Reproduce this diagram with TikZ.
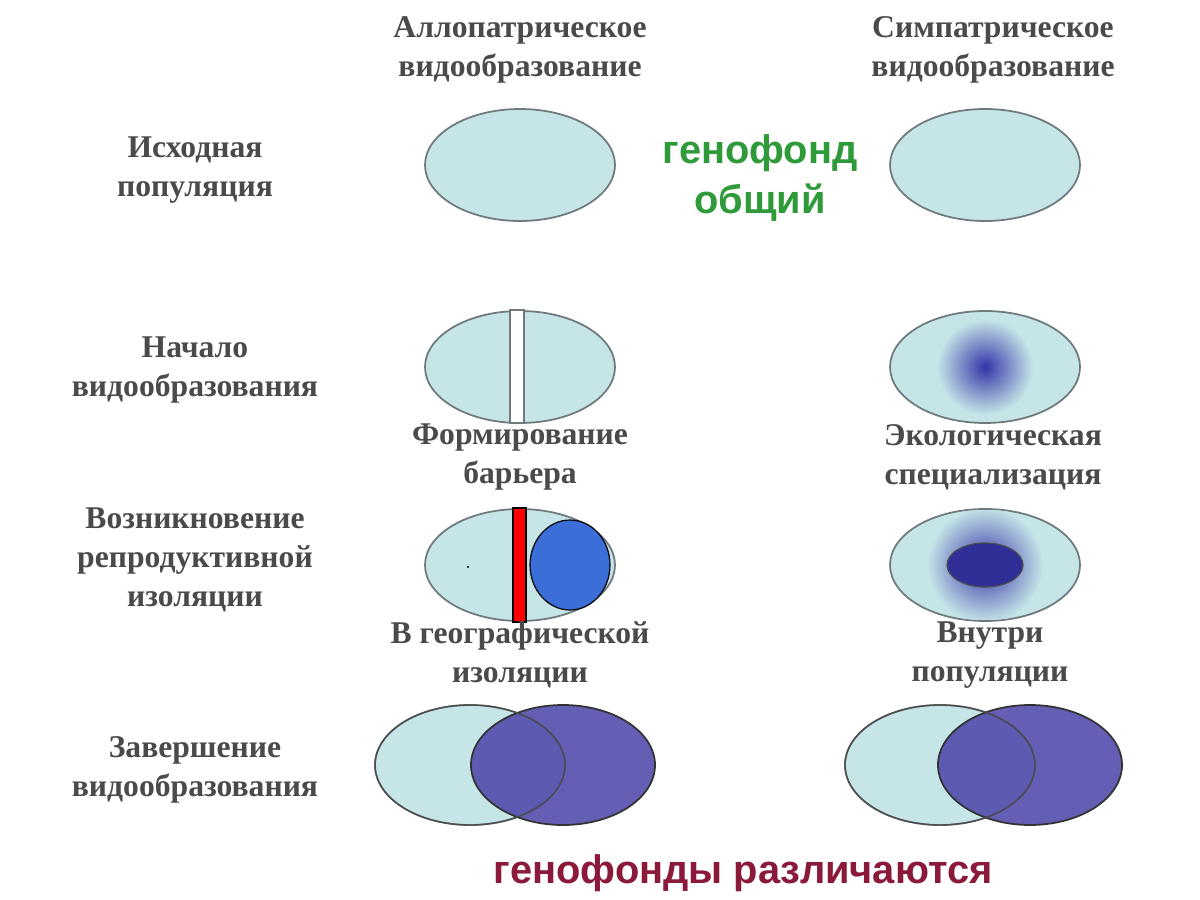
\documentclass[tikz,border=0pt]{standalone}
\usepackage{fontspec}
\setmainfont{Liberation Serif}
\newfontfamily\sansb{Liberation Sans}
\usetikzlibrary{shapes.geometric}
\definecolor{pop}{HTML}{C6E5E7}
\definecolor{rim}{HTML}{6E7A7C}
\definecolor{deep}{HTML}{3434A8}
\definecolor{violet}{HTML}{4A44A8}
\definecolor{gtxt}{HTML}{2E9A3A}
\definecolor{rtxt}{HTML}{8B1A3A}
\definecolor{lab}{HTML}{4A4A4A}
\definecolor{ball}{HTML}{3C6ED8}
\tikzset{
 lbl/.style={font=\bfseries\fontsize{27}{33}\selectfont, text=lab, align=center},
 popel/.style={ellipse, draw=rim, line width=1.5pt, fill=pop, minimum width=190\pxu, minimum height=112\pxu, inner sep=0pt},
}
\newlength\pxu \setlength\pxu{0.03cm}
\begin{document}
\begin{tikzpicture}[x=0.03cm,y=-0.03cm]
\useasboundingbox[fill=white] (0,0) rectangle (1200,900);
% headings
\node[lbl] (hA) at (520,50) {Аллопатрическое\\видообразование};
\node[lbl] (hS) at (993,50) {Симпатрическое\\видообразование};
\node[lbl] (r1) at (195,170) {Исходная\\популяция};
\node[lbl] (r2) at (195,370) {Начало\\видообразования};
\node[lbl] (r3) at (195,560) {Возникновение\\репродуктивной\\изоляции};
\node[lbl] (r4) at (195,770) {Завершение\\видообразования};
% row 1
\node[popel] (a1) at (520,165) {};
\node[popel] (s1) at (985,165) {};
\node[font=\sansb\bfseries\fontsize{34}{42}\selectfont, text=gtxt, align=center] (g1) at (760,178) {генофонд\\общий};
% row 2
\node[popel] (a2) at (520,367) {};
\fill[white, draw=rim, line width=1.5pt] (510,310) rectangle (524,423);
\node[popel] (s2) at (985,367) {};
\begin{scope}
\clip (985,367) ellipse (94 and 55);
\shade[inner color=deep, outer color=pop] (985,367) circle (48);
\end{scope}
\node[lbl] (t2a) at (520,457) {Формирование\\барьера};
\node[lbl] (t2s) at (993,457) {Экологическая\\специализация};
% row 3
\node[popel] (a3) at (520,565) {};
\fill[red, draw=black, line width=1pt] (513,508) rectangle (526,622);
\node[ellipse, draw=black, line width=1pt, fill=ball, minimum width=80\pxu, minimum height=90\pxu] (b3) at (570,565) {};
\fill[black] (468,567) circle (1.2);
\node[popel] (s3) at (985,565) {};
\begin{scope}
\clip (985,565) ellipse (94 and 55);
\shade[inner color=deep, outer color=pop] (985,565) circle (58);
\end{scope}
\node[ellipse, draw=black!70, line width=1pt, fill=deep!90!black, minimum width=76\pxu, minimum height=44\pxu] (c3) at (985,565) {};
\node[lbl] (t3a) at (520,655) {В географической\\изоляции};
\node[lbl] (t3s) at (990,655) {Внутри\\популяции};
% row 4
\node[popel, minimum width=190\pxu, minimum height=120\pxu] (a4) at (470,765) {};
\node[ellipse, draw=black!80, line width=1.5pt, fill=violet, fill opacity=0.85, minimum width=184\pxu, minimum height=120\pxu] (a4b) at (563,765) {};
\node[popel, minimum width=190\pxu, minimum height=120\pxu] (s4) at (940,765) {};
\node[ellipse, draw=black!80, line width=1.5pt, fill=violet, fill opacity=0.85, minimum width=184\pxu, minimum height=120\pxu] (s4b) at (1030,765) {};
\draw[black!70, line width=1.2pt] (470,765) ellipse (95 and 60);
\draw[black!70, line width=1.2pt] (940,765) ellipse (95 and 60);
\node[font=\sansb\bfseries\fontsize{34}{42}\selectfont, text=rtxt] (g4) at (743,873) {генофонды различаются};
\end{tikzpicture}
\end{document}
